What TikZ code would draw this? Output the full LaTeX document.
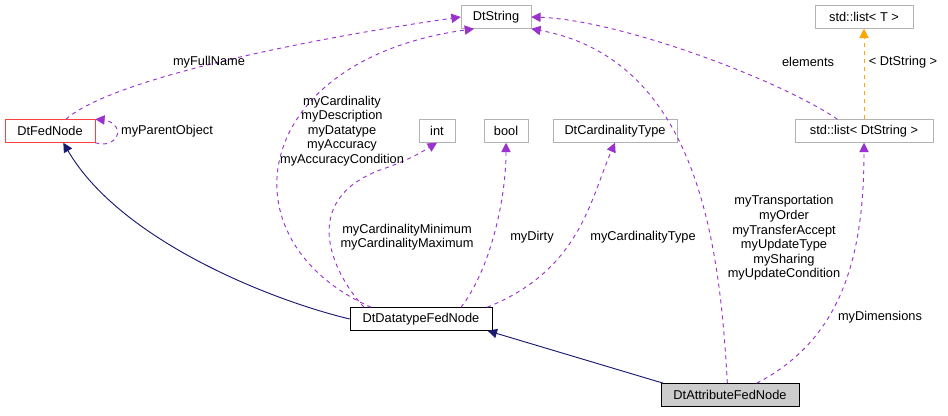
\documentclass[tikz,border=0pt]{standalone}
\usepackage{fontspec}
\setmainfont{Liberation Sans}
\usetikzlibrary{arrows.meta}
\definecolor{pc}{RGB}{154,50,205}
\definecolor{nv}{RGB}{25,25,112}
\definecolor{og}{RGB}{255,165,0}
\begin{document}
\begin{tikzpicture}[x=0.75pt,y=-0.75pt,font=\fontsize{9.6}{10.9}\selectfont,
  box/.style={draw=black!30,fill=white,minimum height=17.25pt,inner sep=2pt,anchor=center},
  use/.style={draw=pc,dashed,-{Triangle[length=7pt,width=7pt,fill=pc]},line width=0.7pt},
  tmpl/.style={draw=og,dashed,-{Triangle[length=7pt,width=7pt,fill=og]},line width=0.7pt},
  inh/.style={draw=nv,{Triangle[length=7pt,width=7pt,fill=nv]}-,line width=0.7pt},
  lbl/.style={align=center,inner sep=1pt}]
\useasboundingbox (0,0) rectangle (948,416);
\node[box,minimum width=52.5pt] (str) at (496,17) {DtString};
\node[box,minimum width=73.5pt] (lt) at (864,17) {std::list< T >};
\node[box,draw=red!75,minimum width=67.5pt] (fed) at (50,131) {DtFedNode};
\node[box,minimum width=27pt] (int) at (437,131) {int};
\node[box,minimum width=33pt] (bool) at (506,131) {bool};
\node[box,minimum width=93pt] (card) at (615,131) {DtCardinalityType};
\node[box,minimum width=103.5pt] (lds) at (864,131) {std::list< DtString >};
\node[box,draw=black,minimum width=106.5pt] (dt) at (421,319) {DtDatatypeFedNode};
\node[box,draw=black,fill=black!20,minimum width=103.5pt] (at) at (730,395) {DtAttributeFedNode};

\draw[use] ([xshift=12]fed.north) .. controls (110,80) and (300,40) .. (str.west);
\draw[use] (fed.south east) .. controls (112,148) and (122,135) .. (116,127) .. controls (112,121) and (105,120) .. ([yshift=0]fed.north east);
\draw[use] (dt.north) ++(-50,0) .. controls (220,240) and (250,60) .. ([xshift=10]str.south west);
\draw[use] (dt.north) ++(-57,0) .. controls (330,270) and (300,200) .. (380,170) .. controls (410,160) and (425,150) .. (int.south);
\draw[use] ([xshift=30]dt.north) .. controls (490,270) and (506,200) .. (bool.south);
\draw[use] (dt.north east) ++(-5,0) .. controls (580,270) and (590,200) .. (card.south);
\draw[use] ([xshift=-2]at.north) .. controls (720,250) and (700,60) .. (str.south east);
\draw[use] ([xshift=20]at.north) .. controls (840,340) and (864,260) .. (lds.south);
\draw[use] ([xshift=-20]lds.north) .. controls (780,80) and (620,20) .. (str.east);
\draw[tmpl] (lds.north) -- (lt.south);
\draw[inh] ([xshift=10]fed.south) .. controls (120,240) and (270,300) .. (dt.west);
\draw[inh] ([xshift=50]dt.south) -- ([xshift=-50]at.north);

\node[lbl] (l1) at (209,62) {myFullName};
\node[lbl] (l2) at (167,131) {myParentObject};
\node[lbl] (l3) at (342,131) {myCardinality\\myDescription\\myDatatype\\myAccuracy\\myAccuracyCondition};
\node[lbl] (l4) at (407,237) {myCardinalityMinimum\\myCardinalityMaximum};
\node[lbl] (l5) at (532,237) {myDirty};
\node[lbl] (l6) at (643,237) {myCardinalityType};
\node[lbl] (l7) at (784,238) {myTransportation\\myOrder\\myTransferAccept\\myUpdateType\\mySharing\\myUpdateCondition};
\node[lbl] (l8) at (880,317) {myDimensions};
\node[lbl] (l9) at (808,62) {elements};
\node[lbl] (l10) at (903,62) {< DtString >};
\end{tikzpicture}
\end{document}
